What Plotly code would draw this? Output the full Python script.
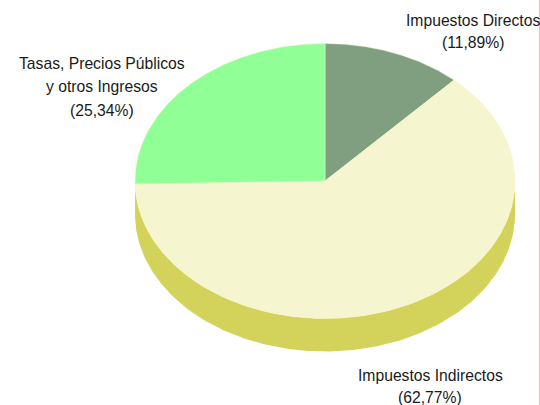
import numpy as np
import plotly.graph_objects as go

# shares in percent, clockwise from 12 o'clock
categories = ["Impuestos Directos", "Impuestos Indirectos", "Tasas, Precios Públicos<br>y otros Ingresos"]
shares = [11.89, 62.77, 25.34]
share_labels = ["(11,89%)", "(62,77%)", "(25,34%)"]

top_colors = ["#7F9F80", "#F5F5CF", "#8FFF96"]
side_colors = ["#5F7F60", "#D3D35C", "#8FFF96"]

W, H = 540, 405
cx, cy = 325, 181  # pie centre in pixels
rx, ry = 190, 137.5
depth = 33 / ry


def arc(a0, a1, drop=0.0):
    # points along the rim, angle in degrees clockwise from the top
    t = np.radians(np.linspace(a0, a1, 181))
    return np.sin(t), np.cos(t) - drop


fig = go.Figure()

# side wall first, only the part facing the viewer (90..270 degrees)
start = 0
for share, color in zip(shares, side_colors):
    end = start + share * 3.6
    a0, a1 = max(start, 90), min(end, 270)
    if a1 > a0:
        x1, y1 = arc(a0, a1)
        x2, y2 = arc(a1, a0, depth)
        fig.add_trace(go.Scatter(x=np.r_[x1, x2], y=np.r_[y1, y2], mode="lines", fill="toself",
                                 fillcolor=color, line=dict(width=0), hoverinfo="skip"))
    start = end

# top face
start = 0
for name, share, color in zip(categories, shares, top_colors):
    end = start + share * 3.6
    x1, y1 = arc(start, end)
    fig.add_trace(go.Scatter(x=np.r_[0, x1, 0], y=np.r_[0, y1, 0], mode="lines", fill="toself",
                             fillcolor=color, line=dict(width=0.5, color="#F5F5CF"), name=name))
    start = end

# labels, one annotation per line because the line spacing is wider than plotly's
label_lines = [
    ["Impuestos Directos", share_labels[0]],
    ["Impuestos Indirectos", share_labels[1]],
    ["Tasas, Precios Públicos", "y otros Ingresos", share_labels[2]],
]
label_x = [473, 430, 101.5]
label_y = [20, 375, 64]
line_gap = [22, 22, 23]
for lines, lx, ly, gap in zip(label_lines, label_x, label_y, line_gap):
    for i, line in enumerate(lines):
        fig.add_annotation(x=lx / W, y=1 - (ly + i * gap) / H, xref="paper", yref="paper",
                           text=line, showarrow=False, xanchor="center", yanchor="middle",
                           font=dict(family="Liberation Sans", size=15.7, color="#1a1a1a"))

# thin pink frame line at the right edge of the page
fig.add_shape(type="line", xref="paper", yref="paper", x0=539.5 / W, x1=539.5 / W,
              y0=0, y1=1, line=dict(color="#F4BCC4", width=1))

fig.update_layout(
    width=W, height=H,
    margin=dict(l=0, r=0, t=0, b=0),
    paper_bgcolor="white", plot_bgcolor="white",
    showlegend=False,
    xaxis=dict(visible=False, range=[-cx / rx, (W - cx) / rx]),
    yaxis=dict(visible=False, range=[-(H - cy) / ry, cy / ry]),
)
# drop the default body margin so the 540x405 figure fills the window without scrollbars
fig.write_html("out.html", config={"displayModeBar": False},
               post_script="document.body.style.margin='0';document.body.style.overflow='hidden';")
